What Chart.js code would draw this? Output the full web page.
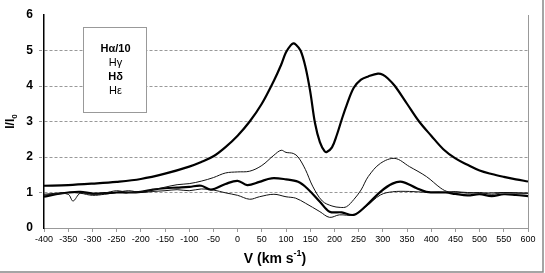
<!DOCTYPE html>
<html>
<head>
<meta charset="utf-8">
<script src="https://cdn.jsdelivr.net/npm/chart.js@4.4.1/dist/chart.umd.min.js"></script>
<style>
  html, body { margin: 0; padding: 0; background: #fff; }
  #wrap { width: 545px; height: 273px; position: relative; }
</style>
</head>
<body>
<div id="wrap"><canvas id="myChart" width="545" height="273"></canvas></div>
<script>
// H-alpha / 10 (thick)
const haVel = [-400, -350, -300, -250, -200, -150, -100, -75, -50, -25, 0, 25, 50, 75, 90, 100, 110, 115, 120, 130, 140, 150, 160, 170, 180, 185, 195, 205, 215, 225, 240, 255, 270, 290, 300, 310, 325, 350, 375, 400, 425, 450, 475, 500, 525, 550, 575, 600];
const haVals = [1.19, 1.21, 1.25, 1.30, 1.38, 1.53, 1.73, 1.86, 2.02, 2.28, 2.60, 3.00, 3.50, 4.15, 4.60, 4.95, 5.15, 5.20, 5.17, 5.00, 4.55, 3.85, 2.95, 2.42, 2.16, 2.15, 2.27, 2.62, 3.05, 3.45, 3.95, 4.18, 4.27, 4.35, 4.32, 4.22, 4.00, 3.50, 3.00, 2.60, 2.22, 1.96, 1.78, 1.62, 1.52, 1.44, 1.37, 1.31];

// H-gamma (thin)
const hgVel = [-400, -375, -350, -340, -325, -300, -275, -250, -225, -200, -175, -150, -125, -100, -75, -50, -25, 0, 25, 50, 75, 90, 100, 115, 125, 140, 155, 175, 195, 212, 225, 240, 255, 270, 295, 325, 355, 390, 420, 435, 450, 475, 500, 525, 550, 575, 600];
const hgVals = [0.92, 0.96, 0.95, 0.76, 0.98, 0.95, 0.98, 1.05, 1.00, 1.02, 1.08, 1.15, 1.22, 1.25, 1.32, 1.42, 1.55, 1.58, 1.60, 1.76, 2.05, 2.19, 2.13, 2.10, 2.00, 1.65, 1.18, 0.76, 0.62, 0.58, 0.60, 0.80, 1.07, 1.45, 1.82, 1.96, 1.73, 1.45, 1.12, 1.02, 1.02, 0.98, 1.00, 0.95, 1.00, 0.98, 0.98];

// H-delta (thick)
const hdVel = [-400, -375, -350, -325, -300, -275, -250, -225, -200, -175, -150, -125, -100, -75, -55, -25, 0, 20, 45, 70, 100, 125, 145, 170, 190, 215, 240, 265, 295, 320, 340, 370, 390, 430, 450, 475, 500, 525, 550, 575, 600];
const hdVals = [0.88, 0.95, 1.00, 1.02, 0.97, 0.98, 1.00, 1.00, 1.02, 1.08, 1.12, 1.14, 1.16, 1.19, 1.08, 1.24, 1.33, 1.21, 1.30, 1.40, 1.37, 1.30, 1.10, 0.74, 0.46, 0.44, 0.37, 0.62, 1.02, 1.25, 1.30, 1.12, 1.02, 1.00, 0.96, 0.92, 0.95, 0.90, 0.95, 0.93, 0.90];

// H-epsilon (thin)
const heVel = [-400, -375, -350, -325, -300, -275, -250, -225, -200, -175, -150, -125, -100, -75, -50, -25, 0, 25, 45, 75, 100, 120, 140, 170, 190, 210, 240, 265, 295, 320, 355, 400, 450, 500, 550, 600];
const heVals = [0.95, 0.98, 1.00, 0.98, 0.92, 0.95, 1.00, 1.05, 1.00, 1.03, 1.05, 1.08, 1.05, 1.10, 1.07, 0.99, 0.92, 0.81, 0.88, 0.95, 0.88, 0.84, 0.70, 0.46, 0.30, 0.37, 0.37, 0.60, 0.93, 1.02, 1.03, 1.00, 1.02, 0.98, 1.00, 0.98];

const legendLabels = ["H\u03b1/10", "H\u03b3", "H\u03b4", "H\u03b5"];

const toPoints = (xs, ys) => xs.map((x, i) => ({ x: x, y: ys[i] }));

const ctx = document.getElementById("myChart");

const extras = {
  id: "extras",
  afterDraw(chart) {
    const c = chart.ctx;
    const area = chart.chartArea;
    c.save();
    // plot area right border
    c.strokeStyle = "#999";
    c.lineWidth = 1;
    c.beginPath();
    c.moveTo(Math.round(area.right) + 0.5, area.top);
    c.lineTo(Math.round(area.right) + 0.5, area.bottom);
    c.stroke();
    // outer frame (right + bottom)
    c.strokeStyle = "#888";
    c.lineWidth = 1.5;
    c.beginPath();
    c.moveTo(543, 0);
    c.lineTo(543, 272);
    c.lineTo(0, 272);
    c.stroke();

    // legend box
    const bx = area.left + 39, by = area.top + 12, bw = 63, bh = 85;
    c.fillStyle = "#fff";
    c.fillRect(bx, by, bw, bh);
    c.strokeStyle = "#999";
    c.lineWidth = 1;
    c.strokeRect(bx + 0.5, by + 0.5, bw, bh);
    c.fillStyle = "#000";
    c.textAlign = "center";
    c.textBaseline = "middle";
    legendLabels.forEach((t, i) => {
      c.font = (i % 2 === 0 ? "bold " : "") + "11px Arial, 'Liberation Sans'";
      c.fillText(t, bx + bw / 2 + 1, by + 22 + i * 14);
    });

    // x axis title with superscript
    c.textAlign = "left";
    c.textBaseline = "alphabetic";
    const p1 = "V (km s", p2 = "-1", p3 = ")";
    c.font = "bold 14px Arial, 'Liberation Sans'";
    const w1 = c.measureText(p1).width;
    const w3 = c.measureText(p3).width;
    c.font = "bold 9px Arial, 'Liberation Sans'";
    const w2 = c.measureText(p2).width;
    const total = w1 + w2 + w3;
    const tx = 275 - total / 2;
    const ty = 263;
    c.font = "bold 14px Arial, 'Liberation Sans'";
    c.fillText(p1, tx, ty);
    c.font = "bold 9px Arial, 'Liberation Sans'";
    c.fillText(p2, tx + w1, ty - 7);
    c.font = "bold 14px Arial, 'Liberation Sans'";
    c.fillText(p3, tx + w1 + w2, ty);

    // y axis title I/I0, rotated
    c.translate(14, (area.top + area.bottom) / 2);
    c.rotate(-Math.PI / 2);
    c.font = "bold 12px Arial, 'Liberation Sans'";
    const y1 = "I/I";
    const wy1 = c.measureText(y1).width;
    c.font = "bold 8px Arial, 'Liberation Sans'";
    const wy2 = c.measureText("0").width;
    const sx = -(wy1 + wy2) / 2;
    c.font = "bold 12px Arial, 'Liberation Sans'";
    c.fillText(y1, sx, 0);
    c.font = "bold 8px Arial, 'Liberation Sans'";
    c.fillText("0", sx + wy1, 3);
    c.restore();
  }
};

const gridCol = (c) => (c.tick && c.tick.value >= 1 && c.tick.value <= 5 ? "#999" : "rgba(0,0,0,0)");

new Chart(ctx, {
  type: "scatter",
  data: {
    datasets: [
      { label: legendLabels[0], data: toPoints(haVel, haVals), borderColor: "#000", borderWidth: 2.2 },
      { label: legendLabels[1], data: toPoints(hgVel, hgVals), borderColor: "#111", borderWidth: 1 },
      { label: legendLabels[2], data: toPoints(hdVel, hdVals), borderColor: "#000", borderWidth: 2.2 },
      { label: legendLabels[3], data: toPoints(heVel, heVals), borderColor: "#111", borderWidth: 1 },
    ].map((d) => Object.assign(d, {
      showLine: true,
      pointRadius: 0,
      pointHoverRadius: 0,
      fill: false,
      tension: 0.35,
    })),
  },
  plugins: [extras],
  options: {
    responsive: false,
    animation: false,
    events: [],
    layout: { padding: { left: 0, right: 17, top: 15, bottom: 0 } },
    plugins: {
      legend: { display: false },
      tooltip: { enabled: false },
    },
    scales: {
      x: {
        type: "linear",
        min: -400,
        max: 600,
        afterFit: (scale) => { scale.height = 45; },
        border: { color: "#999", width: 1 },
        grid: {
          drawOnChartArea: false,
          drawTicks: true,
          tickLength: 4,
          tickColor: "#999",
        },
        ticks: {
          stepSize: 50,
          autoSkip: false,
          maxRotation: 0,
          padding: 2,
          color: "#000",
          font: { family: "Arial, 'Liberation Sans'", size: 9 },
        },
      },
      y: {
        min: 0,
        max: 6,
        afterFit: (scale) => { scale.width = 44; },
        border: { color: "#000", width: 1.5, dash: [3, 2] },
        grid: {
          color: gridCol,
          tickColor: gridCol,
          lineWidth: 1,
          tickLength: 5,
          tickBorderDash: [3, 2],
        },
        ticks: {
          stepSize: 1,
          padding: 6,
          color: "#000",
          font: { family: "Arial, 'Liberation Sans'", size: 12, weight: "bold" },
        },
      },
    },
  },
});
</script>
</body>
</html>
